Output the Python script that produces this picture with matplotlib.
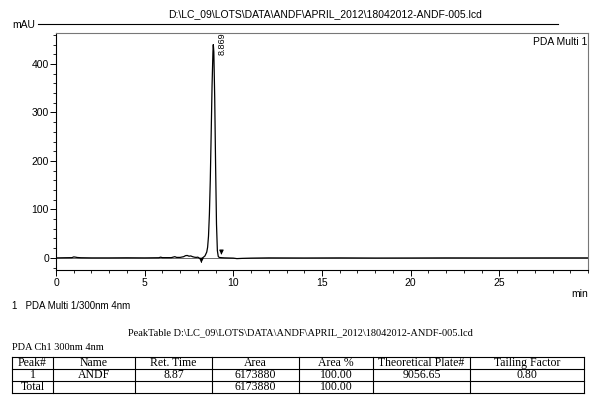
import matplotlib
matplotlib.use("Agg")
import matplotlib.pyplot as plt
from matplotlib.lines import Line2D

# ---- data ----
time_min = [0.0, 0.5, 0.9, 1.0, 1.1, 1.2, 1.4, 2.0, 3.0, 4.0, 5.0, 5.8, 5.9, 6.0, 6.5,
            6.6, 6.7, 6.8, 7.0, 7.2, 7.3, 7.4, 7.5, 7.6, 7.7, 7.8, 7.9, 8.0, 8.1,
            8.2, 8.3, 8.4, 8.5, 8.55, 8.6, 8.65, 8.7, 8.75, 8.8, 8.85, 8.87, 8.9,
            8.95, 9.0, 9.05, 9.1, 9.15, 9.2, 9.3, 9.5, 10.0, 10.2, 10.5, 11.0,
            12.0, 14.0, 16.0, 18.0, 20.0, 22.0, 25.0, 28.0, 30.0]
absorb_mau = [0.0, 0.3, 0.5, 2.0, 1.5, 0.8, 0.3, 0.0, 0.0, 0.2, 0.0, 0.3, 1.5, 0.5, 0.5,
              1.5, 2.5, 1.0, 1.0, 2.5, 4.5, 5.0, 3.5, 4.0, 2.5, 1.5, 1.0, 1.5, -1.0,
              -2.0, 1.0, 4.0, 12.0, 22.0, 45.0, 90.0, 160.0, 255.0, 355.0, 425.0, 440.0, 425.0,
              330.0, 190.0, 70.0, 15.0, 3.0, 1.0, 0.5, 0.0, -0.5, -1.5, -1.0, -0.5,
              0.0, -0.2, 0.0, -0.3, -0.2, 0.0, -0.1, 0.0, 0.0]

peak_time = 8.869
peak_label = "8.869"

x_ticks = [0, 5, 10, 15, 20, 25]
y_ticks = [0, 100, 200, 300, 400]

title_text = "D:\\LC_09\\LOTS\\DATA\\ANDF\\APRIL_2012\\18042012-ANDF-005.lcd"
table_title = "PeakTable D:\\LC_09\\LOTS\\DATA\\ANDF\\APRIL_2012\\18042012-ANDF-005.lcd"
col_headers = ["Peak#", "Name", "Ret. Time", "Area", "Area %", "Theoretical Plate#", "Tailing Factor"]
row_1 = ["1", "ANDF", "8.87", "6173880", "100.00", "9056.65", "0.80"]
row_total = ["Total", "", "", "6173880", "100.00", "", ""]

SANS = ["Liberation Sans Narrow", "Liberation Sans", "DejaVu Sans"]
SERIF = ["Liberation Serif", "DejaVu Serif"]

W, H = 592, 396
fig = plt.figure(figsize=(W / 100, H / 100), dpi=100)

def fx(px):
    return px / W

def fy(py):
    return 1 - py / H

ax = fig.add_axes([fx(56), fy(270), fx(588) - fx(56), fy(33) - fy(270)])
ax.plot(time_min, absorb_mau, color="black", lw=0.9)
ax.set_xlim(0, 30)
ax.set_ylim(-25, 464)
ax.set_xticks(x_ticks)
ax.set_xticks(range(0, 31), minor=True)
ax.set_yticks(y_ticks)
ax.set_yticks(range(-20, 461, 20), minor=True)
ax.tick_params(axis="both", which="major", direction="out", length=4, width=0.7,
               labelsize=7.5)
ax.tick_params(axis="both", which="minor", direction="out", length=2.5, width=0.6)
for lab in ax.get_xticklabels() + ax.get_yticklabels():
    lab.set_family(SANS)
ax.tick_params(axis="x", pad=2)
ax.tick_params(axis="y", pad=1)
for s in ["top", "right"]:
    ax.spines[s].set_color("#777777")
for s in ["left", "bottom"]:
    ax.spines[s].set_color("black")
for s in ax.spines.values():
    s.set_linewidth(0.8)
# zero baseline reference line across the plot
ax.axhline(0, color="#555555", lw=0.6, zorder=0)

# integration markers
ax.annotate("", xy=(8.2, -16), xytext=(8.2, -1), arrowprops=dict(arrowstyle="-|>", lw=0.8,
            color="black", mutation_scale=6))
ax.annotate("", xy=(9.33, 1), xytext=(9.33, 16), arrowprops=dict(arrowstyle="-|>", lw=0.8,
            color="black", mutation_scale=6))

# peak label
ax.annotate(peak_label, xy=(peak_time, 419), xytext=(3, 0), textcoords="offset points",
            rotation=90, ha="left", va="bottom", fontsize=6.5, family=SANS)

ax.text(0.998, 0.985, "PDA Multi 1", transform=ax.transAxes, ha="right", va="top",
        fontsize=7.5, family=SANS)

# header
fig.text(fx(325), fy(14), title_text, ha="center", va="center", fontsize=7.5, family=SANS)
fig.add_artist(Line2D([fx(38), fx(558)], [fy(24), fy(24)], color="black", lw=0.8))
fig.text(fx(12), fy(25), "mAU", ha="left", va="center", fontsize=7.5, family=SANS)
fig.text(fx(588), fy(294), "min", ha="right", va="center", fontsize=7.5, family=SANS)
fig.text(fx(12), fy(306), "1   PDA Multi 1/300nm 4nm", ha="left", va="center", fontsize=7,
         family=SANS)

# peak table
fig.text(fx(300), fy(333), table_title, ha="center", va="center", fontsize=7.5, family=SERIF)
fig.text(fx(12), fy(347), "PDA Ch1 300nm 4nm", ha="left", va="center", fontsize=7.5,
         family=SERIF)

col_edges = [12, 53, 135, 212, 299, 373, 470, 584]
row_edges = [357, 369, 381, 393]
rows = [col_headers, row_1, row_total]
for py in row_edges:
    fig.add_artist(Line2D([fx(col_edges[0]), fx(col_edges[-1])], [fy(py), fy(py)],
                          color="black", lw=0.8))
for px in col_edges:
    fig.add_artist(Line2D([fx(px), fx(px)], [fy(row_edges[0]), fy(row_edges[-1])],
                          color="black", lw=0.8))
for r, row in enumerate(rows):
    yc = (row_edges[r] + row_edges[r + 1]) / 2
    for c, val in enumerate(row):
        xc = (col_edges[c] + col_edges[c + 1]) / 2
        fig.text(fx(xc), fy(yc), val, ha="center", va="center", fontsize=8.5,
                 family=SERIF)

fig.savefig("out.png", dpi=100)
